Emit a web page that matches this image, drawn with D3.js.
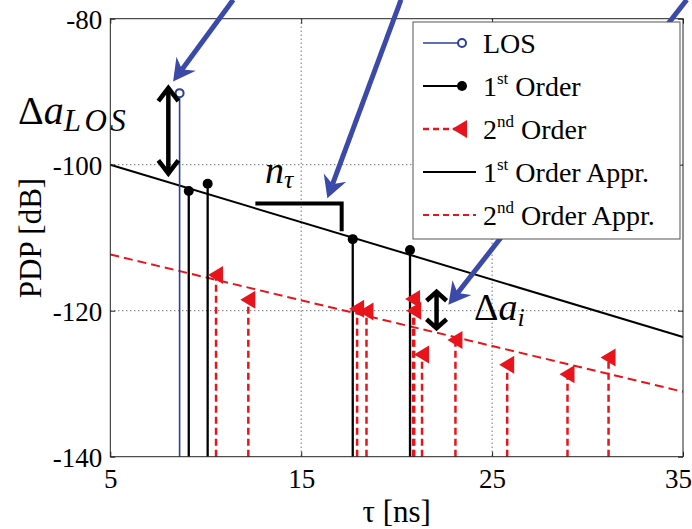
<!DOCTYPE html>
<html>
<head>
<meta charset="utf-8">
<script src="https://cdn.jsdelivr.net/npm/d3@7"></script>
<style>
  body { margin: 0; background: #fff; }
  text { font-family: "Liberation Serif", "Times New Roman", serif; fill: #000; }
</style>
</head>
<body>
<svg id="chart"></svg>
<script>
// values
const losTau = [8.63];
const losPdp = [-90.2];

const firstTau = [9.11, 10.10, 17.70, 20.70];
const firstPdp = [-103.6, -102.6, -110.2, -111.7];

const secondTau = [10.54, 12.23, 17.93, 18.42, 20.86, 20.92, 21.33, 23.08, 25.79, 28.95, 31.10];
const secondPdp = [-115.1, -118.5, -119.75, -120.1, -118.4, -120.0, -126.0, -124.0, -127.4, -128.7, -126.4];

const apprTau = [5, 35];
const firstApprPdp = [-100, -123.6];
const secondApprPdp = [-112.3, -131.1];

const xTicks = [5, 15, 25, 35];
const yTicks = [-140, -120, -100, -80];
const xGrid = [15, 25];
const yGrid = [-120, -100];

const legendLabels = [
  ["LOS", "", ""],
  ["1", "st", " Order"],
  ["2", "nd", " Order"],
  ["1", "st", " Order Appr."],
  ["2", "nd", " Order Appr."]
];

const W = 692, H = 529;
const margin = {top: 18.7, right: 9, bottom: 72.3, left: 110.3};
const iw = W - margin.left - margin.right;
const ih = H - margin.top - margin.bottom;

const RED = "#e8141c", BLUE = "#2b3f9e", ARROW = "#3b49a8";
const SERIF = '"Liberation Serif", "Times New Roman", serif';

const svg = d3.select("#chart").attr("width", W).attr("height", H);
const chart = svg.append("g").attr("transform", `translate(${margin.left},${margin.top})`);

const x = d3.scaleLinear().domain([5, 35]).range([0, iw]);
const y = d3.scaleLinear().domain([-140, -80]).range([ih, 0]);

// dotted grid
chart.selectAll(".gx").data(xGrid).join("line")
  .attr("x1", d => x(d)).attr("x2", d => x(d)).attr("y1", 0).attr("y2", ih)
  .attr("stroke", "#333").attr("stroke-width", 1).attr("stroke-dasharray", "1,3");
chart.selectAll(".gy").data(yGrid).join("line")
  .attr("y1", d => y(d)).attr("y2", d => y(d)).attr("x1", 0).attr("x2", iw)
  .attr("stroke", "#333").attr("stroke-width", 1).attr("stroke-dasharray", "1,3");

// approximation lines
const line = d3.line().x(d => x(d[0])).y(d => y(d[1]));
chart.append("path")
  .attr("d", line(d3.zip(apprTau, firstApprPdp)))
  .attr("stroke", "#000").attr("stroke-width", 2).attr("fill", "none");
chart.append("path")
  .attr("d", line(d3.zip(apprTau, secondApprPdp)))
  .attr("stroke", RED).attr("stroke-width", 2).attr("stroke-dasharray", "9,5").attr("fill", "none");

// 2nd order stems
const second = d3.zip(secondTau, secondPdp);
chart.selectAll(".s2").data(second).join("line")
  .attr("x1", d => x(d[0])).attr("x2", d => x(d[0]))
  .attr("y1", ih).attr("y2", d => y(d[1]))
  .attr("stroke", RED).attr("stroke-width", 2.5).attr("stroke-dasharray", "7,4");

// 1st order stems
const first = d3.zip(firstTau, firstPdp);
chart.selectAll(".s1").data(first).join("line")
  .attr("x1", d => x(d[0])).attr("x2", d => x(d[0]))
  .attr("y1", ih).attr("y2", d => y(d[1]))
  .attr("stroke", "#000").attr("stroke-width", 2.3);

// LOS stem
const los = d3.zip(losTau, losPdp);
chart.selectAll(".sl").data(los).join("line")
  .attr("x1", d => x(d[0])).attr("x2", d => x(d[0]))
  .attr("y1", ih).attr("y2", d => y(d[1]))
  .attr("stroke", BLUE).attr("stroke-width", 1.6);

// markers
const tri = (cx, cy) => `M${cx - 8},${cy} L${cx + 7},${cy - 9} L${cx + 7},${cy + 9} Z`;
chart.selectAll(".m2").data(second).join("path")
  .attr("d", d => tri(x(d[0]), y(d[1]))).attr("fill", RED);
chart.selectAll(".m1").data(first).join("circle")
  .attr("cx", d => x(d[0])).attr("cy", d => y(d[1])).attr("r", 5).attr("fill", "#000");
chart.selectAll(".ml").data(los).join("circle")
  .attr("cx", d => x(d[0])).attr("cy", d => y(d[1])).attr("r", 4)
  .attr("fill", "#fff").attr("stroke", BLUE).attr("stroke-width", 2);

// axes with inward ticks
const xaxis = d3.axisBottom(x).tickValues(xTicks).tickSizeInner(-5).tickSizeOuter(0).tickFormat(d3.format("d"));
const yaxis = d3.axisLeft(y).tickValues(yTicks).tickSizeInner(-5).tickSizeOuter(0).tickFormat(d => d3.format("d")(d).replace("−", "-"));

const gx = chart.append("g").attr("transform", `translate(0,${ih})`).call(xaxis);
gx.selectAll("text").attr("y", 31).attr("dy", 0)
  .style("font-size", "27px").style("font-family", SERIF)
  .attr("dx", d => d === 35 ? -5 : 0);
const gy = chart.append("g").call(yaxis);
gy.selectAll("text").attr("x", -8).attr("dy", "0.35em")
  .style("font-size", "27px").style("font-family", SERIF);
chart.append("g").call(d3.axisTop(x).tickValues(xTicks).tickSizeInner(-5).tickSizeOuter(0).tickFormat(""));
chart.append("g").attr("transform", `translate(${iw},0)`)
  .call(d3.axisRight(y).tickValues(yTicks).tickSizeInner(-5).tickSizeOuter(0).tickFormat(""));
chart.selectAll(".domain").remove();
chart.selectAll(".tick line").attr("stroke", "#222");
chart.append("rect").attr("width", iw).attr("height", ih)
  .attr("fill", "none").attr("stroke", "#222").attr("stroke-width", 1);

// axis labels
svg.append("text").attr("x", margin.left + iw / 2).attr("y", 522)
  .attr("text-anchor", "middle").style("font-size", "31px").text("τ [ns]");
svg.append("text").attr("transform", "translate(41,238) rotate(-90)")
  .attr("text-anchor", "middle").style("font-size", "31px").text("PDP [dB]");

// legend
const lg = svg.append("g").attr("transform", "translate(413,22)");
lg.append("rect").attr("width", 267).attr("height", 217)
  .attr("fill", "#fff").attr("stroke", "#555").attr("stroke-width", 1);
const rowY = i => 21 + i * 43;
const items = lg.selectAll(".li").data(legendLabels).join("g")
  .attr("transform", (d, i) => `translate(0,${rowY(i)})`);
items.each(function (d, i) {
  const g = d3.select(this);
  const x2 = i < 3 ? 48 : 63;
  g.append("line").attr("x1", 10).attr("x2", x2).attr("y1", 0).attr("y2", 0)
    .attr("stroke", [BLUE, "#000", RED, "#000", RED][i])
    .attr("stroke-width", [1.6, 2, 2.5, 2, 2][i])
    .attr("stroke-dasharray", i === 2 || i === 4 ? "6,4" : null);
  if (i === 0) g.append("circle").attr("cx", 49).attr("cy", 0).attr("r", 4)
    .attr("fill", "#fff").attr("stroke", BLUE).attr("stroke-width", 2);
  if (i === 1) g.append("circle").attr("cx", 49).attr("cy", 0).attr("r", 5).attr("fill", "#000");
  if (i === 2) g.append("path").attr("d", tri(47, 0)).attr("fill", RED);
  const t = g.append("text").attr("x", 70).attr("y", 10).style("font-size", "28px");
  t.append("tspan").text(d[0]);
  if (d[1]) t.append("tspan").attr("dy", -12).style("font-size", "17px").text(d[1]);
  if (d[2]) t.append("tspan").attr("dy", d[1] ? 12 : 0).text(d[2]);
});

// annotations (data coordinates)
const blueArrows = [
  [[11.44, -77.4], [8.29, -88.6]],
  [[20.23, -77.4], [16.37, -104.6]],
  [[35.2, -77.4], [22.71, -119.2]]
];
blueArrows.forEach(a => {
  const sx = x(a[0][0]), sy = y(a[0][1]), tx = x(a[1][0]), ty = y(a[1][1]);
  const len = Math.hypot(tx - sx, ty - sy);
  const ux = (tx - sx) / len, uy = (ty - sy) / len, px = -uy, py = ux;
  const L = 22, Wd = 12, N = 7;
  chart.append("line").attr("x1", sx).attr("y1", sy)
    .attr("x2", tx - (L - N) * ux).attr("y2", ty - (L - N) * uy)
    .attr("stroke", ARROW).attr("stroke-width", 5);
  chart.append("path")
    .attr("d", `M${tx},${ty} L${tx - L * ux + Wd * px},${ty - L * uy + Wd * py} L${tx - (L - N) * ux},${ty - (L - N) * uy} L${tx - L * ux - Wd * px},${ty - L * uy - Wd * py} Z`)
    .attr("fill", ARROW);
});

const dblArrows = [
  {tau: 8.04, top: -89.5, bottom: -101.2, w: 10, h: 13},
  {tau: 22.09, top: -117.4, bottom: -122.4, w: 10, h: 9}
];
dblArrows.forEach(a => {
  const cx = x(a.tau), t = y(a.top), b = y(a.bottom);
  chart.append("line").attr("x1", cx).attr("x2", cx).attr("y1", t + 2).attr("y2", b - 2)
    .attr("stroke", "#000").attr("stroke-width", 4.5);
  chart.append("path").attr("d", `M${cx - a.w},${t + a.h} L${cx},${t} L${cx + a.w},${t + a.h}`)
    .attr("fill", "none").attr("stroke", "#000").attr("stroke-width", 4.5);
  chart.append("path").attr("d", `M${cx - a.w},${b - a.h} L${cx},${b} L${cx + a.w},${b - a.h}`)
    .attr("fill", "none").attr("stroke", "#000").attr("stroke-width", 4.5);
});

// n_tau bracket
const bracket = {from: 12.6, to: 17.12, top: -105.3, bottom: -109.1};
chart.append("path")
  .attr("d", `M${x(bracket.from)},${y(bracket.top)} L${x(bracket.to)},${y(bracket.top)} L${x(bracket.to)},${y(bracket.bottom)}`)
  .attr("fill", "none").attr("stroke", "#000").attr("stroke-width", 4);

// math labels
const tLos = svg.append("text").attr("x", 18).attr("y", 124).style("font-size", "40px");
tLos.append("tspan").text("Δ");
tLos.append("tspan").style("font-style", "italic").text("a");
tLos.append("tspan").attr("dy", 7).style("font-style", "italic").style("font-size", "31px")
  .attr("textLength", 62).text("LOS");

const tN = svg.append("text").attr("x", 265).attr("y", 183).style("font-size", "38px");
tN.append("tspan").style("font-style", "italic").text("n");
tN.append("tspan").attr("dy", 5).style("font-style", "italic").style("font-size", "26px").text("τ");

const tI = svg.append("text").attr("x", 474).attr("y", 320).style("font-size", "38px");
tI.append("tspan").text("Δ");
tI.append("tspan").style("font-style", "italic").text("a");
tI.append("tspan").attr("dy", 6).style("font-style", "italic").style("font-size", "26px").text("i");
</script>
</body>
</html>
